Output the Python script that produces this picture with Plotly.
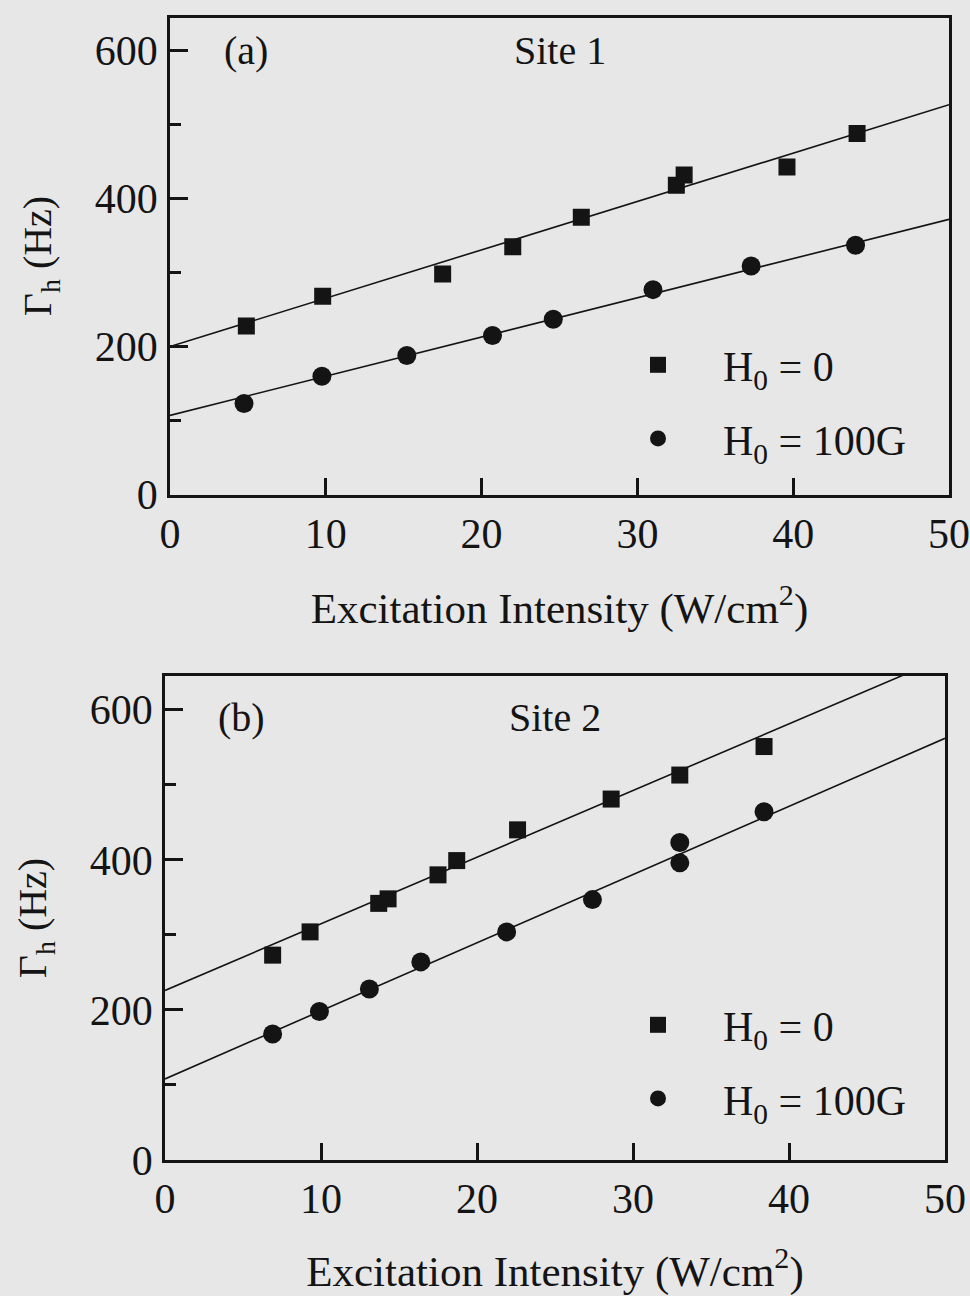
import plotly.graph_objects as go

# ---------------- data ----------------
# Panel (a): Site 1
a_sq_x = [4.9, 9.8, 17.5, 22.0, 26.4, 32.5, 33.0, 39.6, 44.1]
a_sq_y = [228, 268, 298, 335, 375, 418, 432, 443, 488]
a_ci_x = [4.75, 9.75, 15.2, 20.7, 24.6, 31.0, 37.3, 44.0]
a_ci_y = [123, 160, 188, 215, 237, 277, 309, 337]
a_fit_x = [0, 50]
a_fit_sq_y = [200, 527]
a_fit_ci_y = [107, 372]

# Panel (b): Site 2
b_sq_x = [6.9, 9.3, 13.7, 14.3, 17.5, 18.7, 22.6, 28.6, 33.0, 38.4]
b_sq_y = [273, 304, 342, 348, 380, 399, 440, 481, 513, 551]
b_ci_x = [6.9, 9.9, 13.1, 16.4, 21.9, 27.4, 33.0, 33.0, 38.4]
b_ci_y = [168, 198, 228, 264, 304, 347, 396, 423, 464]
b_fit_sq_x = [0, 47.3]
b_fit_sq_y = [226, 646]
b_fit_ci_x = [0, 50]
b_fit_ci_y = [108, 562]

x_ticks = [0, 10, 20, 30, 40, 50]
y_ticks = [0, 200, 400, 600]
legend_labels = ["H<sub>0</sub> = 0", "H<sub>0</sub> = 100G"]
panel_tags = ["(a)", "(b)"]
panel_titles = ["Site 1", "Site 2"]
x_title = "Excitation Intensity (W/cm<sup>2</sup>)"
y_title = "Γ<sub>h</sub> (Hz)"

# ---------------- style ----------------
FONT = "Liberation Serif"
INK = "#141414"
BG = "#e7e7e7"
FS = 40
W, H = 970, 1296

fig = go.Figure()

def add_panel(xa, ya, leg, sqx, sqy, cix, ciy, fsx, fsy, fcx, fcy):
    fig.add_trace(go.Scatter(x=fsx, y=fsy, mode="lines", xaxis=xa, yaxis=ya,
                             line=dict(color=INK, width=1.6), showlegend=False, hoverinfo="skip"))
    fig.add_trace(go.Scatter(x=fcx, y=fcy, mode="lines", xaxis=xa, yaxis=ya,
                             line=dict(color=INK, width=1.6), showlegend=False, hoverinfo="skip"))
    fig.add_trace(go.Scatter(x=sqx, y=sqy, mode="markers", xaxis=xa, yaxis=ya,
                             marker=dict(symbol="square", size=17, color=INK),
                             name=legend_labels[0], legend=leg, legendgroup=leg + "sq"))
    fig.add_trace(go.Scatter(x=cix, y=ciy, mode="markers", xaxis=xa, yaxis=ya,
                             marker=dict(symbol="circle", size=19, color=INK),
                             name=legend_labels[1], legend=leg, legendgroup=leg + "ci"))

add_panel("x", "y", "legend", a_sq_x, a_sq_y, a_ci_x, a_ci_y,
          a_fit_x, a_fit_sq_y, a_fit_x, a_fit_ci_y)
add_panel("x2", "y2", "legend2", b_sq_x, b_sq_y, b_ci_x, b_ci_y,
          b_fit_sq_x, b_fit_sq_y, b_fit_ci_x, b_fit_ci_y)

def xaxis(domain, anchor):
    return dict(domain=domain, anchor=anchor, range=[0, 50], tickvals=x_ticks,
                ticks="inside", ticklen=17, tickwidth=2.5, tickcolor=INK,
                showline=True, linecolor=INK, linewidth=2.8, mirror=True,
                showgrid=False, zeroline=False, automargin=False, ticklabeloverflow="allow",
                tickfont=dict(family=FONT, size=42, color=INK),
                title=dict(text=x_title, font=dict(family=FONT, size=43, color=INK), standoff=38))

def yaxis(domain, anchor):
    return dict(domain=domain, anchor=anchor, range=[0, 645], tickvals=y_ticks,
                ticks="inside", ticklen=18, tickwidth=2.5, tickcolor=INK,
                minor=dict(dtick=100, tick0=0, ticks="inside", ticklen=11, tickwidth=2.5, tickcolor=INK, showgrid=False),
                showline=True, linecolor=INK, linewidth=2.8, mirror=True,
                showgrid=False, zeroline=False, automargin=False, ticklabelstandoff=1,
                ticklabeloverflow="allow",
                tickfont=dict(family=FONT, size=42, color=INK),
                title=dict(text=y_title, font=dict(family=FONT, size=40, color=INK), standoff=31))

legend_common = dict(font=dict(family=FONT, size=42, color=INK), bgcolor="rgba(0,0,0,0)",
                     borderwidth=0, itemwidth=120, tracegroupgap=16,
                     xanchor="left", yanchor="top", itemclick=False)

fig.update_layout(
    width=W, height=H, margin=dict(l=0, r=0, t=0, b=0),
    paper_bgcolor=BG, plot_bgcolor=BG, showlegend=True,
    font=dict(family=FONT, size=FS, color=INK),
    xaxis=xaxis([170 / W, 949 / W], "y"),
    yaxis=yaxis([1 - 494.5 / H, 1 - 17.5 / H], "x"),
    xaxis2=xaxis([165 / W, 945 / W], "y2"),
    yaxis2=yaxis([1 - 1160 / H, 1 - 676 / H], "x2"),
    legend=dict(x=593 / W, y=1 - 331 / H, **legend_common),
    legend2=dict(x=593 / W, y=1 - 991 / H, **legend_common),
)

for xr, yr, i, yv in [("x", "y", 0, 600), ("x2", "y2", 1, 590)]:
    fig.add_annotation(x=4.9, y=yv, xref=xr, yref=yr, text=panel_tags[i], showarrow=False,
                       font=dict(family=FONT, size=FS, color=INK))
    fig.add_annotation(x=25, y=yv, xref=xr, yref=yr, text=panel_titles[i], showarrow=False,
                       font=dict(family=FONT, size=FS, color=INK))

fig.write_html("out.html")
